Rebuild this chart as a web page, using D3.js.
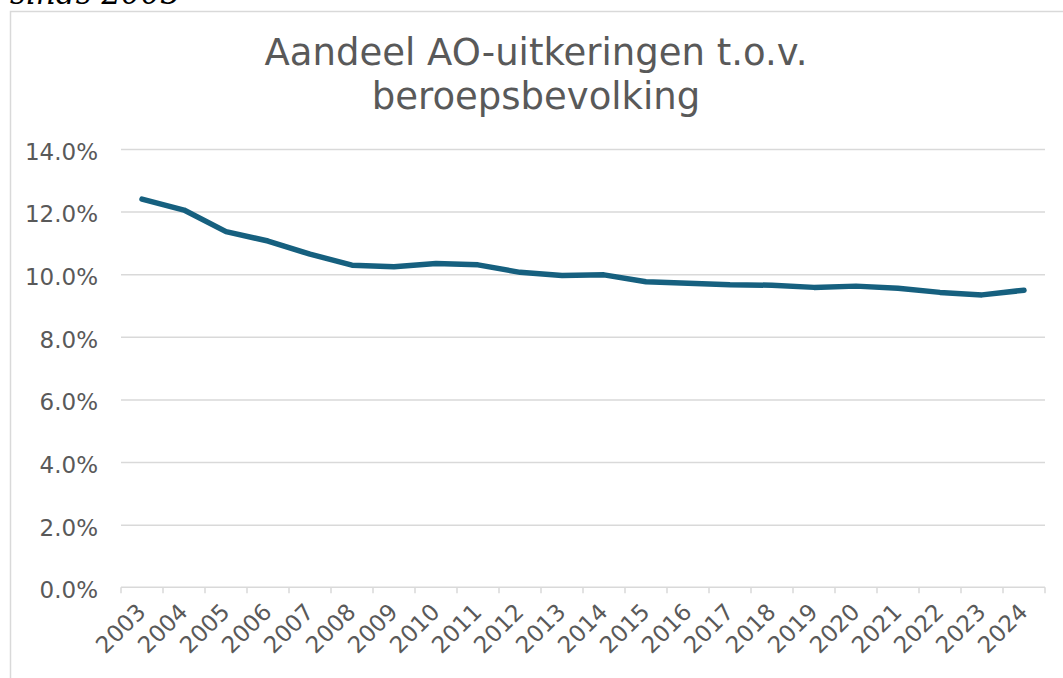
<!DOCTYPE html>
<html>
<head>
<meta charset="utf-8">
<script src="https://cdn.jsdelivr.net/npm/d3@7"></script>
<style>
  body { margin: 0; background: #fff; }
  svg { display: block; }
</style>
</head>
<body>
<svg id="chart"></svg>
<script>
// data
var years = ["2003","2004","2005","2006","2007","2008","2009","2010","2011","2012","2013",
             "2014","2015","2016","2017","2018","2019","2020","2021","2022","2023","2024"];
var aandeel = [0.1240, 0.1205, 0.1136, 0.1106, 0.1064, 0.1029, 0.1024, 0.1034, 0.1030, 0.1006, 0.0996,
               0.0998, 0.0976, 0.0971, 0.0966, 0.0965, 0.0958, 0.0962, 0.0955, 0.0942, 0.0934, 0.0949];
var yTicks = [0, 0.02, 0.04, 0.06, 0.08, 0.10, 0.12, 0.14];
var titleLines = ["Aandeel AO-uitkeringen t.o.v.", "beroepsbevolking"];

var W = 1063, H = 678;
var plotL = 121, plotR = 1045, plotT = 149, plotB = 587.3;
var grey = "#595959", gridCol = "#d9d9d9", lineCol = "#16607f";

var svg = d3.select("#chart").attr("width", W).attr("height", H);

// caption cut off at the top of the picture
svg.append("text")
	.attr("x", 10)
	.attr("y", 4)
	.text("sinds 2003")
	.style("font-family", "'DejaVu Serif', serif")
	.style("font-style", "italic")
	.attr("font-size", "31px")
	.attr("fill", "#000");

// chart frame (runs off right and bottom)
svg.append("rect")
	.attr("x", 10.5)
	.attr("y", 11.5)
	.attr("width", 1200)
	.attr("height", 1000)
	.attr("fill", "none")
	.attr("stroke", gridCol)
	.attr("stroke-width", 1.5);

// title
svg.append("text")
	.attr("text-anchor", "middle")
	.style("font-family", "'DejaVu Sans', sans-serif")
	.attr("font-size", "37px")
	.attr("fill", grey)
	.selectAll("tspan")
	.data(titleLines)
	.enter()
	.append("tspan")
		.attr("x", 536)
		.attr("y", function(d, i) { return 65 + i * 44; })
		.text(d => d);

var x = d3.scaleBand().domain(years).range([plotL, plotR]);
var y = d3.scaleLinear().domain([0, 0.14]).range([plotB, plotT]);

// gridlines
svg.append("g")
	.attr("transform", "translate(" + plotL + ",0)")
	.call(d3.axisLeft(y).tickValues(yTicks.slice(1)).tickSize(-(plotR - plotL)).tickFormat(""))
	.call(g => g.select(".domain").remove())
	.call(g => g.selectAll("line").attr("stroke", gridCol).attr("stroke-width", 1.5));

// y labels
svg.append("g")
	.attr("transform", "translate(" + plotL + ",0)")
	.call(d3.axisLeft(y).tickValues(yTicks).tickSize(0).tickPadding(23).tickFormat(d3.format(".1%")))
	.call(g => g.select(".domain").remove())
	.call(g => g.selectAll("text")
		.attr("fill", grey)
		.attr("dy", "0.45em")
		.style("font-family", "'DejaVu Sans', sans-serif")
		.attr("font-size", "23px"));

// x axis line + boundary ticks
var xAxis = svg.append("g");
xAxis.append("line")
	.attr("x1", plotL).attr("x2", plotR)
	.attr("y1", y(0)).attr("y2", y(0))
	.attr("stroke", gridCol).attr("stroke-width", 1.5);
xAxis.selectAll(".xtick")
	.data(years.map(d => x(d)).concat([x.range()[1]]))
	.enter()
	.append("line")
		.attr("class", "xtick")
		.attr("x1", d => d).attr("x2", d => d)
		.attr("y1", y(0)).attr("y2", y(0) + 6)
		.attr("stroke", gridCol).attr("stroke-width", 1.5);

// x labels, rotated
xAxis.selectAll(".xlabel")
	.data(years)
	.enter()
	.append("text")
		.attr("class", "xlabel")
		.attr("text-anchor", "end")
		.attr("transform", d => "translate(" + (x(d) + x.bandwidth() / 2 + 5) + "," + (y(0) + 26) + ") rotate(-45)")
		.text(d => d)
		.style("font-family", "'DejaVu Sans', sans-serif")
		.attr("font-size", "23px")
		.attr("fill", grey);

// the line
var line = d3.line()
	.x((d, i) => x(years[i]) + x.bandwidth() / 2)
	.y(d => y(d));

svg.append("path")
	.datum(aandeel)
	.attr("d", line)
	.attr("fill", "none")
	.attr("stroke", lineCol)
	.attr("stroke-width", 5.5)
	.attr("stroke-linecap", "round")
	.attr("stroke-linejoin", "round");
</script>
</body>
</html>
